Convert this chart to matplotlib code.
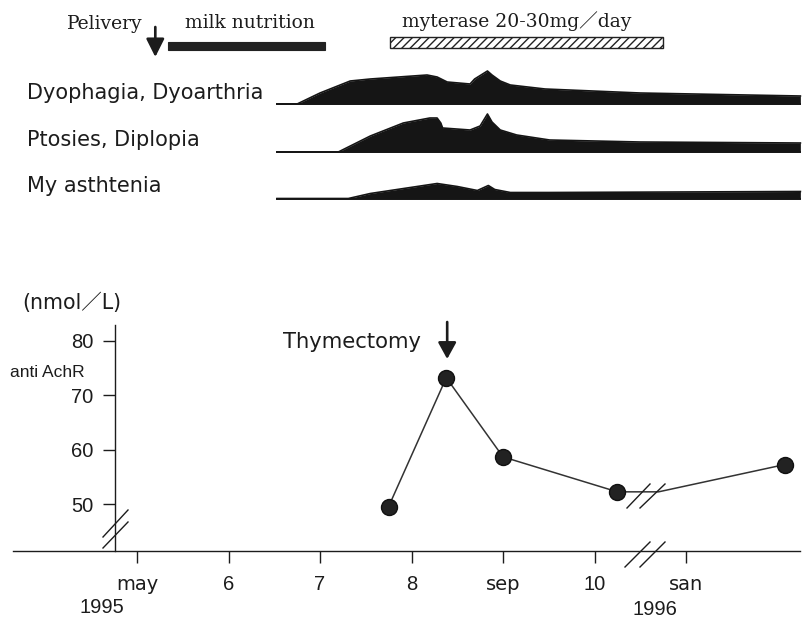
import matplotlib
matplotlib.use('Agg')
import matplotlib.pyplot as plt
from matplotlib.lines import Line2D
from matplotlib.patches import Rectangle

# ---------------- data ----------------
months = [5, 6, 7, 8, 9, 10, 11]
month_labels = ['may', '6', '7', '8', 'sep', '10', 'san']
yticks = [50, 60, 70, 80]

achr_month = [7.75, 8.38, 9.00, 10.25, 12.08]
achr_value = [49.6, 73.2, 58.7, 52.3, 57.3]
# connecting line (flat across the axis break after the October point)
line_month = [7.75, 8.38, 9.00, 10.25, 10.70, 12.08]
line_value = [49.6, 73.2, 58.7, 52.3, 52.3, 57.3]

thymectomy_month = 8.39
delivery_month = 5.20
milk_period = (5.34, 7.06)
myterase_period = (7.77, 10.75)

symptom_names = ['Dyophagia, Dyoarthria', 'Ptosies, Diplopia', 'My asthtenia']
dys_x = [6.53, 6.75, 7.00, 7.33, 7.55, 8.17, 8.28, 8.39, 8.64, 8.69, 8.83, 8.88,
         8.97, 9.08, 9.46, 10.50, 12.25]
dys_h = [0, 0, 11, 23, 25, 29, 27, 22, 20, 25, 33, 29, 23, 19, 15, 11, 8]
pto_x = [6.53, 7.20, 7.55, 7.91, 8.20, 8.28, 8.32, 8.34, 8.64, 8.75, 8.83, 8.88,
         8.97, 9.15, 9.51, 10.50, 12.25]
pto_h = [0, 0, 16, 29, 34, 34, 29, 24, 22, 26, 38, 30, 22, 17, 12, 10, 9]
mya_x = [6.53, 7.31, 7.55, 8.28, 8.50, 8.72, 8.84, 8.91, 9.08, 9.51, 12.25]
mya_h = [0, 0, 5, 15, 12, 8, 13, 9, 6, 6, 7]

# ---------------- layout helpers ----------------
W, H = 804, 620
X0, DX = 137.0, 91.5          # pixel of month 5, pixels per month
def xm(px):
    return 5 + (px - X0) / DX
def vv(py):
    return 65 + (422.5 - py) / 5.46

INK = '#1c1c1c'
plt.rcParams['font.family'] = ['DejaVu Sans', 'Noto Sans CJK JP']

fig = plt.figure(figsize=(8.04, 6.2), dpi=100)
fig.patch.set_facecolor('white')

def ftext(px, py, s, **kw):
    fig.text(px / W, 1 - py / H, s, color=INK, **kw)

def fline(xs, ys, lw=1.0):
    fig.add_artist(Line2D([x / W for x in xs], [1 - y / H for y in ys],
                          transform=fig.transFigure, color=INK, lw=lw))

# ---------------- bottom chart ----------------
ax = fig.add_axes([0, 0, 1, 330 / H])
ax.set_xlim(xm(0), xm(W))
ax.set_ylim(vv(620), vv(290))
ax.patch.set_alpha(0)
for s in ['top', 'right']:
    ax.spines[s].set_visible(False)
ax.spines['left'].set_position(('data', xm(115)))
ax.spines['left'].set_bounds(vv(551), vv(325))
ax.spines['bottom'].set_position(('data', vv(551)))
ax.spines['bottom'].set_bounds(xm(13), xm(800))
for s in ['left', 'bottom']:
    ax.spines[s].set_color(INK)
    ax.spines[s].set_linewidth(1.0)

ax.set_xticks(months, month_labels)
ax.set_yticks(yticks)
ax.tick_params(axis='both', direction='out', length=8.6, width=1.0,
               color=INK, labelcolor=INK)
ax.tick_params(axis='x', pad=9, labelsize=14)
ax.tick_params(axis='y', pad=7, labelsize=14.5)
for lbl in ax.get_yticklabels():
    lbl.set_fontfamily('Liberation Sans')
for lbl in ax.get_xticklabels():
    if lbl.get_text().isdigit():
        lbl.set_fontfamily('Liberation Sans')
        lbl.set_fontsize(14.5)

ax.plot(line_month, line_value, color='#333333', lw=1.1, zorder=2)
ax.plot(achr_month, achr_value, 'o', ms=11.5, color='#222222',
        markeredgecolor='#111111', zorder=3)

ax.annotate('', xy=(thymectomy_month, vv(359)), xytext=(thymectomy_month, vv(322)),
            arrowprops=dict(arrowstyle='-|>,head_length=1.0,head_width=0.55',
                            lw=1.9, color=INK, shrinkA=0, shrinkB=0,
                            mutation_scale=10))

ftext(283, 348, 'Thymectomy', fontsize=15.2, ha='left', va='baseline')
ftext(22, 309, '(nmol／L)', fontsize=14.8, ha='left', va='baseline')
ftext(10, 377, 'anti AchR', fontsize=12.5, ha='left', va='baseline',
      family='Liberation Sans')
ftext(102, 613, '1995', fontsize=14.5, ha='center', va='baseline',
      family='Liberation Sans')
ftext(655, 615, '1996', fontsize=14.5, ha='center', va='baseline',
      family='Liberation Sans')

# axis breaks
fline([103, 128], [537, 510])
fline([103, 128], [548, 522])
fline([625, 650], [567, 542])
fline([640, 665], [567, 542])
fline([627, 650], [508, 484])
fline([640, 665], [508, 484])

# ---------------- top symptom panel ----------------
axT = fig.add_axes([0, (H - 210) / H, 1, 210 / H])
axT.set_xlim(xm(0), xm(W))
axT.set_ylim(0, 210)
axT.axis('off')

bases = [210 - 104, 210 - 152, 210 - 198.5]
label_base = [99, 146, 192]
profiles = [(dys_x, dys_h), (pto_x, pto_h), (mya_x, mya_h)]
for (px_, ph_), b, name, lb in zip(profiles, bases, symptom_names, label_base):
    top = [b + h for h in ph_]
    axT.fill_between(px_, b, top, color='#151515', lw=0)
    axT.plot(px_, top, color='#151515', lw=1.2)
    axT.plot([px_[0], px_[-1]], [b, b], color='#151515', lw=1.4)
    ftext(27, lb, name, fontsize=15, ha='left', va='baseline')

axT.add_patch(Rectangle((milk_period[0], 210 - 50), milk_period[1] - milk_period[0], 8,
                        facecolor='#222222', edgecolor='#222222', lw=0.8))
plt.rcParams['hatch.linewidth'] = 1.0
axT.add_patch(Rectangle((myterase_period[0], 210 - 48), myterase_period[1] - myterase_period[0], 11,
                        facecolor='white', edgecolor='#222222', hatch='////', lw=1.0))

axT.annotate('', xy=(delivery_month, 210 - 57), xytext=(delivery_month, 210 - 27),
             arrowprops=dict(arrowstyle='-|>,head_length=1.1,head_width=0.55',
                             lw=1.9, color=INK, shrinkA=0, shrinkB=0,
                             mutation_scale=10))

serif = ['DejaVu Serif', 'Noto Sans CJK JP']
ftext(67, 29, 'Pelivery', fontsize=13.5, ha='left', va='baseline', family=serif)
ftext(185, 28, 'milk nutrition', fontsize=13.5, ha='left', va='baseline', family=serif)
ftext(402, 27, 'myterase 20-30mg／day', fontsize=13.5, ha='left', va='baseline', family=serif)

fig.savefig('out.png', dpi=100, facecolor='white')
